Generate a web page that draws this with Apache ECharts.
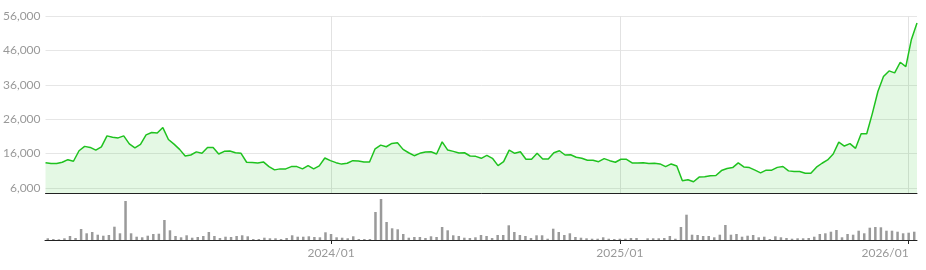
<!DOCTYPE html>
<html>
<head>
<meta charset="utf-8">
<script src="https://cdn.jsdelivr.net/npm/echarts@6/dist/echarts.min.js"></script>
<style>
html,body{margin:0;padding:0;background:#fff;}
#chart{width:926px;height:270px;}
</style>
</head>
<body>
<div id="chart"></div>
<script>
// weekly categories, first week date
const startDate = '2023-01-12';
const weekCount = 157;

// weekly closing prices
const prices = [
13370,13100,13100,13490,14240,13780,16830,18100,17800,17030,
17980,21150,20770,20570,21150,18840,17690,18670,21440,22130,
22000,23570,20110,18760,17230,15300,15590,16500,16080,17800,
17800,15880,16650,16740,16250,16080,13490,13400,13290,13580,
12220,11270,11560,11560,12220,12220,11560,12510,11560,12420,
14730,13950,13370,12950,13200,13950,13850,13570,13570,17400,
18470,17990,18960,19130,17230,16250,15390,16080,16450,16540,
15880,19420,17030,16650,16170,16250,15300,15200,14640,15500,
14640,12510,13660,17030,16080,16540,14350,14350,16080,14440,
14440,16250,16830,15590,15680,14930,14640,14060,14060,13660,
14530,13950,13490,14350,14350,13290,13300,13370,13100,13200,
13000,12220,13000,12420,8100,8390,7810,9170,9250,9540,
9630,11070,11650,11930,13290,12130,11930,11180,10400,11180,
11180,12000,12250,10980,10800,10800,10310,10310,12050,13200,
14150,15880,19350,18200,18890,17530,21770,21770,27630,34070,
38400,40040,39460,42550,41280,49190,53980
];

// weekly volume (relative units)
const volumes = [
1.7,1,0.7,1.7,4,2,11,6.7,8,5.3,
4.3,5,13.3,6.7,39,6.7,3.3,2.7,4.3,6,
6.3,20,9.7,4,2.7,4.7,2.3,3,4,8,
4,2,3.3,3,4,4.7,3.7,1,1,2.3,
1.7,1.7,1,2,4.7,3.3,3.3,3.7,3,2.7,
7.7,6,2.7,2.3,1.7,3.7,1,1,1,28,
41,18,11.7,10.7,6,2.3,3,3,2,3.7,
3,13,9.7,4.7,4,2.3,2,2.7,5,4,
2,5,5,14.7,8,5,4,2,4.7,4.7,
1.3,11.3,8,5,6.7,3,2.3,1.7,1.3,1.3,
2.7,1.3,1,1.3,1.3,2,2,0,1.7,1.7,
1.7,2,4,1.3,13,25.3,5.3,5,4,4,
2.7,5.3,15,5.3,6,3.3,4.3,5,2.7,3.3,
1,3.7,2.7,2,1.3,1.7,1.7,2,3.3,6,
6.7,8.3,10,2.7,6,5.3,9.3,6.7,12.3,13,
12.7,9.3,9.3,8.3,6.7,7.3,8.3
];

const yTicks = [6000,16000,26000,36000,46000,56000];

const categories = [];
(function(){
  const d0 = new Date(startDate + 'T00:00:00Z');
  for (let i = 0; i < weekCount; i++) {
    const d = new Date(d0.getTime() + i * 7 * 86400000);
    categories.push(d.toISOString().slice(0,10));
  }
})();

function yearStart(idx) {
  if (idx === 0) return false;
  return categories[idx].slice(0,4) !== categories[idx-1].slice(0,4);
}
function fmtMonth(v) {
  return v.slice(0,4) + '/' + v.slice(5,7);
}

const chart = echarts.init(document.getElementById('chart'), null, {renderer:'canvas'});
const font = 'Lato, "Noto Sans", sans-serif';

chart.setOption({
  animation: false,
  backgroundColor: '#ffffff',
  grid: [
    {left: 45, right: 9, top: 16, height: 177},
    {left: 45, right: 9, top: 196, height: 44}
  ],
  xAxis: [
    {
      type: 'category', gridIndex: 0, data: categories, boundaryGap: false,
      axisLine: {show: true, lineStyle: {color: '#222', width: 1}},
      axisTick: {show: false}, axisLabel: {show: false}, splitLine: {show: false}
    },
    {
      type: 'category', gridIndex: 1, data: categories, boundaryGap: true,
      axisLine: {show: true, lineStyle: {color: '#222', width: 1}},
      axisTick: {show: true, alignWithLabel: true, length: 4, interval: (i) => yearStart(i), lineStyle: {color: '#222'}},
      axisLabel: {show: true, interval: (i) => yearStart(i), formatter: fmtMonth, color: '#999', fontSize: 12, fontFamily: font, margin: 7, alignMaxLabel: 'right'},
      splitLine: {show: false}
    },
    {
      type: 'category', gridIndex: 0, data: categories, boundaryGap: true, position: 'bottom',
      axisLine: {show: false}, axisTick: {show: false, alignWithLabel: true, interval: (i) => yearStart(i)}, axisLabel: {show: false},
      splitLine: {show: true, alignWithLabel: true, interval: (i) => yearStart(i), lineStyle: {color: '#e2e2e2', width: 1}}
    }
  ],
  yAxis: [
    {
      type: 'value', gridIndex: 0, min: 4550, max: 56000,
      axisLine: {show: false},
      axisTick: {show: false, customValues: yTicks},
      axisLabel: {show: true, customValues: yTicks, color: '#999', fontSize: 12, fontFamily: font, margin: 5,
        formatter: (v) => v.toLocaleString('en-US')},
      splitLine: {show: true, lineStyle: {color: '#e6e6e6', width: 1}}
    },
    {
      type: 'value', gridIndex: 1, min: 0, max: 44,
      axisLine: {show: false}, axisTick: {show: false}, axisLabel: {show: false}, splitLine: {show: false}
    }
  ],
  series: [
    {
      type: 'line', xAxisIndex: 0, yAxisIndex: 0, data: prices,
      symbol: 'none', smooth: false,
      lineStyle: {color: '#1fc21f', width: 1.5},
      areaStyle: {color: 'rgba(40,200,40,0.18)'}
    },
    {
      type: 'bar', xAxisIndex: 1, yAxisIndex: 1, data: volumes,
      barWidth: 2.5,
      itemStyle: {color: '#9a9a9a'}
    }
  ]
});
</script>
</body>
</html>
